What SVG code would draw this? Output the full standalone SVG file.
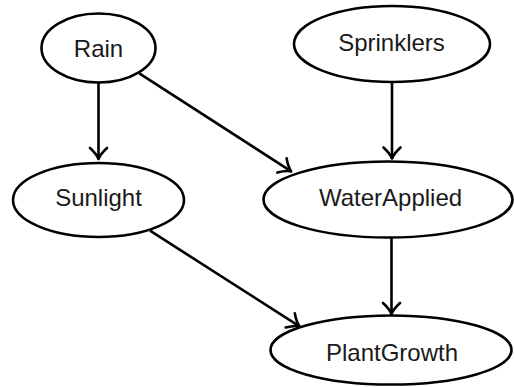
<svg xmlns="http://www.w3.org/2000/svg" width="514" height="387" viewBox="0 0 514 387">
  <style>
    .node ellipse { fill: #ffffff; stroke: #000000; stroke-width: 2.6; }
    .node text { font-family: "Liberation Sans", Arial, sans-serif; font-size: 24px; fill: #1a1a1a; text-anchor: middle; }
    .edge { stroke: #000000; stroke-width: 2.6; fill: none; marker-end: url(#arrow); }
  </style>
  <defs>
    <marker id="arrow" markerUnits="userSpaceOnUse" markerWidth="28" markerHeight="28" refX="0" refY="0" orient="auto" overflow="visible" viewBox="-14 -14 28 28">
      <path d="M-11,-8.5 Q-5,-2 0,0 Q-5,2 -11,8.5" fill="none" stroke="#000000" stroke-width="2.6" stroke-linecap="round" stroke-linejoin="round"/>
    </marker>
  </defs>
  <rect width="514" height="387" fill="#ffffff"/>
  <g id="connectors">
    <line class="edge" x1="98.5" y1="82" x2="98.5" y2="159"/>
    <line class="edge" x1="392" y1="82" x2="392" y2="158.5"/>
    <line class="edge" x1="139.3" y1="73.3" x2="291.2" y2="171.4"/>
    <line class="edge" x1="150" y1="230.7" x2="299.5" y2="326.3"/>
    <line class="edge" x1="391.5" y1="237.5" x2="391.5" y2="314"/>
  </g>
  <g id="node-rain" class="node">
    <ellipse cx="98.5" cy="48" rx="57" ry="34.5"/>
    <text x="98.5" y="57">Rain</text>
  </g>
  <g id="node-sprinklers" class="node">
    <ellipse cx="392" cy="44" rx="98" ry="38"/>
    <text x="391.5" y="51">Sprinklers</text>
  </g>
  <g id="node-sunlight" class="node">
    <ellipse cx="98.5" cy="200" rx="85.5" ry="37"/>
    <text x="98.5" y="206">Sunlight</text>
  </g>
  <g id="node-waterapplied" class="node">
    <ellipse cx="388" cy="199.5" rx="124.5" ry="38"/>
    <text x="390.5" y="206">WaterApplied</text>
  </g>
  <g id="node-plantgrowth" class="node">
    <ellipse cx="391" cy="350" rx="120.5" ry="34.5"/>
    <text x="392" y="360.5">PlantGrowth</text>
  </g>
</svg>
